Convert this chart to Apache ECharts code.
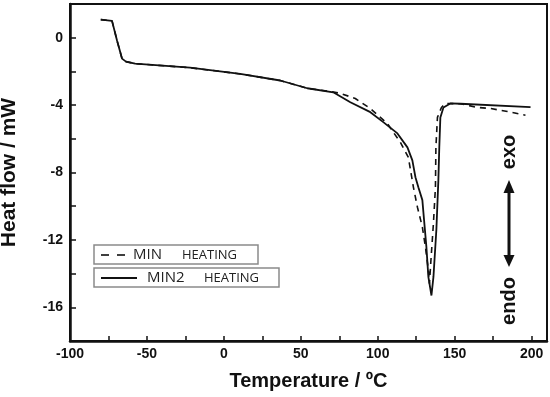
<!DOCTYPE html>
<html>
<head>
<meta charset="utf-8">
<script src="https://cdn.jsdelivr.net/npm/echarts@6/dist/echarts.min.js"></script>
<style>html,body{margin:0;padding:0;background:#fff}#c{width:550px;height:397px}</style>
</head>
<body>
<div id="c"></div>
<script>
// MIN (dashed) heating curve
var minTemp = [-80, -72.7, -72, -69.4, -66.2, -63.6, -57.7, -22, 10.6, 36.6, 54.2, 68, 75.7, 85.4, 95.2, 106.2, 114.7, 119.9, 123.2, 125.8, 129, 131, 132.9, 133.6, 134.5, 136.2, 137.5, 137.8, 138.8, 141.4, 144, 153.7, 164.8, 173.3, 184.3, 196];
var minFlow = [1.07, 1.0, 0.9, -0.18, -1.24, -1.42, -1.54, -1.78, -2.15, -2.54, -3.0, -3.18, -3.3, -3.61, -4.2, -5.09, -6.21, -7.1, -8.88, -10.06, -11.24, -12.43, -13.79, -14.6, -13.3, -11.0, -8.88, -6.5, -4.73, -4.14, -3.9, -3.92, -4.14, -4.2, -4.38, -4.6];
// MIN2 (solid) heating curve
var min2Temp = [-80, -72.7, -72, -69.4, -66.2, -63.6, -57.7, -22, 10.6, 36.6, 54.2, 71.1, 82.2, 95.2, 103.6, 112.8, 119.3, 122.5, 124.5, 126.4, 129, 129.7, 131.6, 132.9, 134.9, 136.2, 138.1, 139.4, 140, 140.7, 142.7, 147.2, 153.7, 199.3];
var min2Flow = [1.07, 1.0, 0.9, -0.18, -1.24, -1.42, -1.54, -1.78, -2.15, -2.54, -3.0, -3.24, -3.83, -4.42, -5.01, -5.68, -6.51, -7.28, -8.28, -8.88, -9.64, -10.4, -12.4, -14.2, -15.3, -14.2, -11.4, -8.46, -6.5, -4.73, -4.14, -3.9, -3.92, -4.12];

var xTickLabels = [-100, -50, 0, 50, 100, 150, 200];
var yTickLabels = [-16, -12, -8, -4, 0];

function zip(a, b) { return a.map(function (v, i) { return [v, b[i]]; }); }

var boldFont = 'Liberation Sans, Arial, sans-serif';
var legFont = 'Open Sans, sans-serif';

var chart = echarts.init(document.getElementById('c'), null, {renderer: 'canvas'});
chart.setOption({
  animation: false,
  backgroundColor: '#fff',
  grid: {left: 70, right: 3, top: 4, bottom: 56, containLabel: false, outerBoundsMode: 'none',
    show: true, borderColor: '#111', borderWidth: 2, backgroundColor: 'transparent'},
  xAxis: {
    type: 'value', min: -100, max: 210, interval: 25,
    name: 'Temperature / \u00baC', nameLocation: 'middle', nameGap: 30,
    nameTextStyle: {fontFamily: boldFont, fontWeight: 'bold', fontSize: 20, color: '#111'},
    axisLine: {show: true, onZero: false, lineStyle: {color: '#111', width: 2.5}},
    axisTick: {show: true, inside: true, length: 5, lineStyle: {color: '#111', width: 1.5}},
    axisLabel: {margin: 6, fontFamily: boldFont, fontWeight: 'bold', fontSize: 14, color: '#111',
      formatter: function (v) { return xTickLabels.indexOf(v) >= 0 ? String(v) : ''; }},
    splitLine: {show: false}
  },
  yAxis: {
    type: 'value', min: -18, max: 2, interval: 2,
    name: 'Heat flow / mW', nameLocation: 'middle', nameGap: 50,
    nameTextStyle: {fontFamily: boldFont, fontWeight: 'bold', fontSize: 21, color: '#111'},
    axisLine: {show: true, onZero: false, lineStyle: {color: '#111', width: 2.5}},
    axisTick: {show: true, inside: true, length: 6, lineStyle: {color: '#111', width: 1.5}},
    axisLabel: {margin: 7, fontFamily: boldFont, fontWeight: 'bold', fontSize: 14, color: '#111',
      formatter: function (v) { return yTickLabels.indexOf(v) >= 0 ? String(v) : ''; }},
    splitLine: {show: false}
  },
  series: [
    {name: 'MIN', type: 'line', data: zip(minTemp, minFlow), showSymbol: false, symbol: 'none',
      lineStyle: {color: '#111', width: 1.6, type: [6, 5]}},
    {name: 'MIN2', type: 'line', data: zip(min2Temp, min2Flow), showSymbol: false, symbol: 'none',
      lineStyle: {color: '#111', width: 1.8, type: 'solid'}}
  ],
  graphic: [
    // legend box 1
    {type: 'rect', shape: {x: 94, y: 245, width: 164, height: 19}, style: {fill: '#fff', stroke: '#8a8a8a', lineWidth: 1.5}},
    {type: 'line', shape: {x1: 101, y1: 255, x2: 125, y2: 255}, style: {stroke: '#111', lineWidth: 1.6, lineDash: [8, 8]}},
    {type: 'text', x: 133, y: 255, style: {text: 'MIN', font: '15px ' + legFont, fill: '#222', verticalAlign: 'middle'}},
    {type: 'text', x: 182, y: 255, style: {text: 'HEATING', font: '13px ' + legFont, fill: '#222', verticalAlign: 'middle'}},
    // legend box 2
    {type: 'rect', shape: {x: 94, y: 268, width: 185, height: 19}, style: {fill: '#fff', stroke: '#8a8a8a', lineWidth: 1.5}},
    {type: 'line', shape: {x1: 101, y1: 278, x2: 137, y2: 278}, style: {stroke: '#111', lineWidth: 1.8}},
    {type: 'text', x: 147, y: 278, style: {text: 'MIN2', font: '15px ' + legFont, fill: '#222', verticalAlign: 'middle'}},
    {type: 'text', x: 204, y: 278, style: {text: 'HEATING', font: '13px ' + legFont, fill: '#222', verticalAlign: 'middle'}},
    // exo / endo arrow
    {type: 'line', shape: {x1: 509, y1: 190, x2: 509, y2: 258}, style: {stroke: '#111', lineWidth: 3}},
    {type: 'polygon', shape: {points: [[509, 180], [503.5, 193], [514.5, 193]]}, style: {fill: '#111'}},
    {type: 'polygon', shape: {points: [[509, 267], [503.5, 255], [514.5, 255]]}, style: {fill: '#111'}},
    {type: 'text', x: 509, y: 152, rotation: Math.PI / 2, style: {text: 'exo', font: 'bold 20px ' + boldFont, fill: '#111', align: 'center', verticalAlign: 'middle'}},
    {type: 'text', x: 509, y: 301, rotation: Math.PI / 2, style: {text: 'endo', font: 'bold 20px ' + boldFont, fill: '#111', align: 'center', verticalAlign: 'middle'}}
  ]
});
</script>
</body>
</html>
